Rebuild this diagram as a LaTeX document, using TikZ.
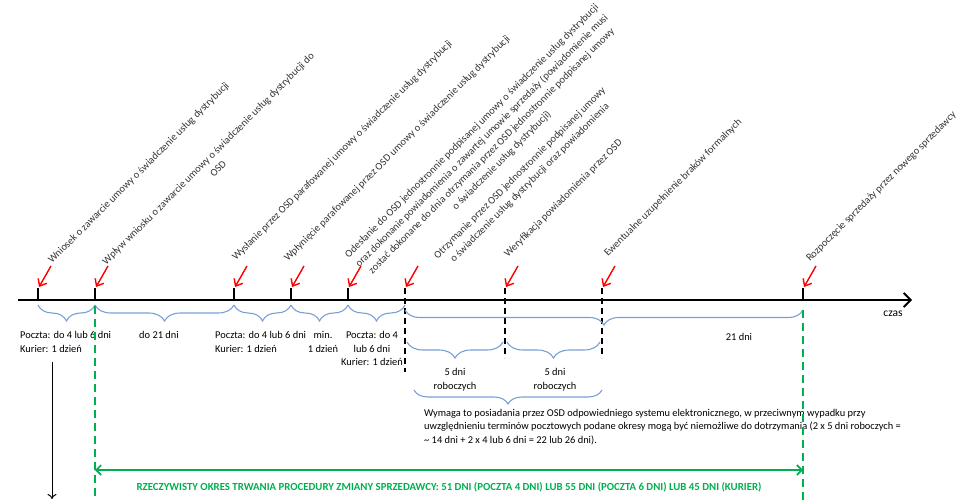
\documentclass[tikz,border=0pt]{standalone}
\usepackage{fontspec}
\setmainfont{Carlito}
\usetikzlibrary{arrows.meta,decorations.pathreplacing,calc}
\definecolor{bracecol}{RGB}{120,160,212}
\definecolor{okresgreen}{RGB}{0,176,80}

\begin{document}
\begin{tikzpicture}[x=1pt,y=-1pt,
  every node/.style={inner sep=0pt,font=\fontsize{10.4}{13.5}\selectfont},
  event/.style={rotate=45,align=center,text=black!80,font=\fontsize{10.4}{14}\selectfont},
  bracket/.style={decorate,decoration={brace,mirror,amplitude=#1},draw=bracecol,line width=1.1pt},
  bracket/.default=16pt,
  pointer/.style={red,line width=1.4pt,-{Straight Barb[length=6pt,width=10pt]}},
  limit/.style={okresgreen,line width=1.6pt,dash pattern=on 8pt off 5pt}]
\useasboundingbox (0,0) rectangle (956,500);
\clip (0,0) rectangle (956,500);
% time axis
\coordinate (start) at (18,300);
\coordinate (end) at (912,300);
\draw[line width=1.8pt,-{Straight Barb[length=7pt,width=14pt]}] (start) -- (end);
\node[font=\fontsize{11.5}{13}\selectfont] (czas) at (893,314) {czas};
\foreach \x [count=\i] in {38,95,234,291,348,405,505,602,803}{
  \coordinate (t\i) at (\x,300);
  \draw[pointer] ($(t\i)+(13,-34)$) -- ($(t\i)+(1,-13)$);
}
\foreach \i in {1,...,5,9} \draw[line width=1.8pt] (t\i) -- ++(0,-12);
\draw[line width=1.6pt,dash pattern=on 6pt off 4pt] ($(t6)+(0,-12)$) -- ++(0,84);
\foreach \i in {7,8} \draw[line width=1.6pt,dash pattern=on 6pt off 4pt] ($(t\i)+(0,-12)$) -- ++(0,70);
% events
\node[event,anchor=base west] (e1) at (52,264) {Wniosek o zawarcie umowy o świadczenie usług dystrybucji};
\node[event] (e2) at (213,163.5) {Wpływ wniosku o zawarcie umowy o świadczenie usług dystrybucji do\\OSD};
\node[event,anchor=base west] (e3) at (236,261) {Wysłanie przez OSD parafowanej umowy o świadczenie usług dystrybucji};
\node[event,anchor=base west] (e4) at (288,262) {Wpłynięcie parafowanej przez OSD umowy o świadczenie usług dystrybucji};
\node[event] (e5) at (487,146) {Odesłanie do OSD jednostronnie podpisanej umowy o świadczenie usług dystrybucji\\oraz dokonanie powiadomienia o zawartej umowie sprzedaży (powiadomienie musi\\zostać dokonane do dnia otrzymania przez OSD jednostronnie podpisanej umowy\\o świadczenie usług dystrybucji)};
\node[event] (e6) at (525,178) {Otrzymanie przez OSD jednostronnie podpisanej umowy\\o świadczenie usług dystrybucji oraz powiadomienia};
\node[event,anchor=base west] (e7) at (508,258) {Weryfikacja powiadomienia przez OSD};
\node[event,anchor=base west] (e8) at (608,257) {Ewentualne uzupełnienie braków formalnych};
\node[event,anchor=base west] (e9) at (810,262) {Rozpoczęcie sprzedaży przez nowego sprzedawcy};
% durations
\draw[bracket] ($(t1)+(0,5)$) -- ($(t2)+(0,5)$);
\draw[bracket] ($(t2)+(0,5)$) -- ($(t3)+(0,5)$);
\draw[bracket] ($(t3)+(0,5)$) -- ($(t4)+(0,5)$);
\draw[bracket] ($(t4)+(0,5)$) -- ($(t5)+(0,5)$);
\draw[bracket] ($(t5)+(0,5)$) -- ($(t6)+(0,5)$);
\draw[bracket=15pt] ($(t6)+(0,10)$) -- ($(t9)+(0,10)$);
\draw[bracket] ($(t6)+(2,42)$) -- ($(t7)+(-2,42)$);
\draw[bracket] ($(t7)+(2,42)$) -- ($(t8)+(-2,42)$);
\draw[bracket=14pt] ($(t6)+(9,90)$) -- ($(t8)+(0,90)$);
\node[anchor=west,align=left] (d1) at (20,342) {Poczta: do 4 lub 6 dni\\Kurier: 1 dzień};
\node (d2) at (159,335) {do 21 dni};
\node[anchor=west,align=left] (d3) at (215,342) {Poczta: do 4 lub 6 dni\\Kurier: 1 dzień};
\node[align=center] (d4) at (323,342) {min.\\1 dzień};
\node[align=center] (d5) at (372,348.5) {Poczta: do 4\\lub 6 dni\\Kurier: 1 dzień};
\node (d6) at (739,337) {21 dni};
\node[align=center] (r1) at (455,379.5) {5 dni\\roboczych};
\node[align=center] (r2) at (555,379.5) {5 dni\\roboczych};
\node[anchor=west,align=left] (uwaga) at (424,427) {Wymaga to posiadania przez OSD odpowiedniego systemu elektronicznego, w przeciwnym wypadku przy\\uwzględnieniu terminów pocztowych podane okresy mogą być niemożliwe do dotrzymania (2 x 5 dni roboczych =\\\textasciitilde{} 14 dni + 2 x 4 lub 6 dni = 22 lub 26 dni).};
% whole procedure
\coordinate (g1) at (95,502);
\coordinate (g2) at (803,502);
\draw[limit] ($(t2)+(0,6)$) -- (g1);
\draw[limit] ($(t9)+(0,10)$) -- (g2);
\coordinate (a1) at (95,470);
\coordinate (a2) at (803,470);
\draw[okresgreen,line width=1.6pt,{Straight Barb[length=5pt,width=10pt]}-{Straight Barb[length=5pt,width=10pt]}] (a1) -- (a2);
\node[text=okresgreen,font=\bfseries\fontsize{10.8}{12}\selectfont] (okres) at (449,487) {RZECZYWISTY OKRES TRWANIA PROCEDURY ZMIANY SPRZEDAWCY: 51 DNI (POCZTA 4 DNI) LUB 55 DNI (POCZTA 6 DNI) LUB 45 DNI (KURIER)};
\coordinate (k1) at (52,362);
\coordinate (k2) at (52,499);
\draw[line width=1pt,-{To[length=5pt,width=9pt]}] (k1) -- (k2);
\end{tikzpicture}
\end{document}
